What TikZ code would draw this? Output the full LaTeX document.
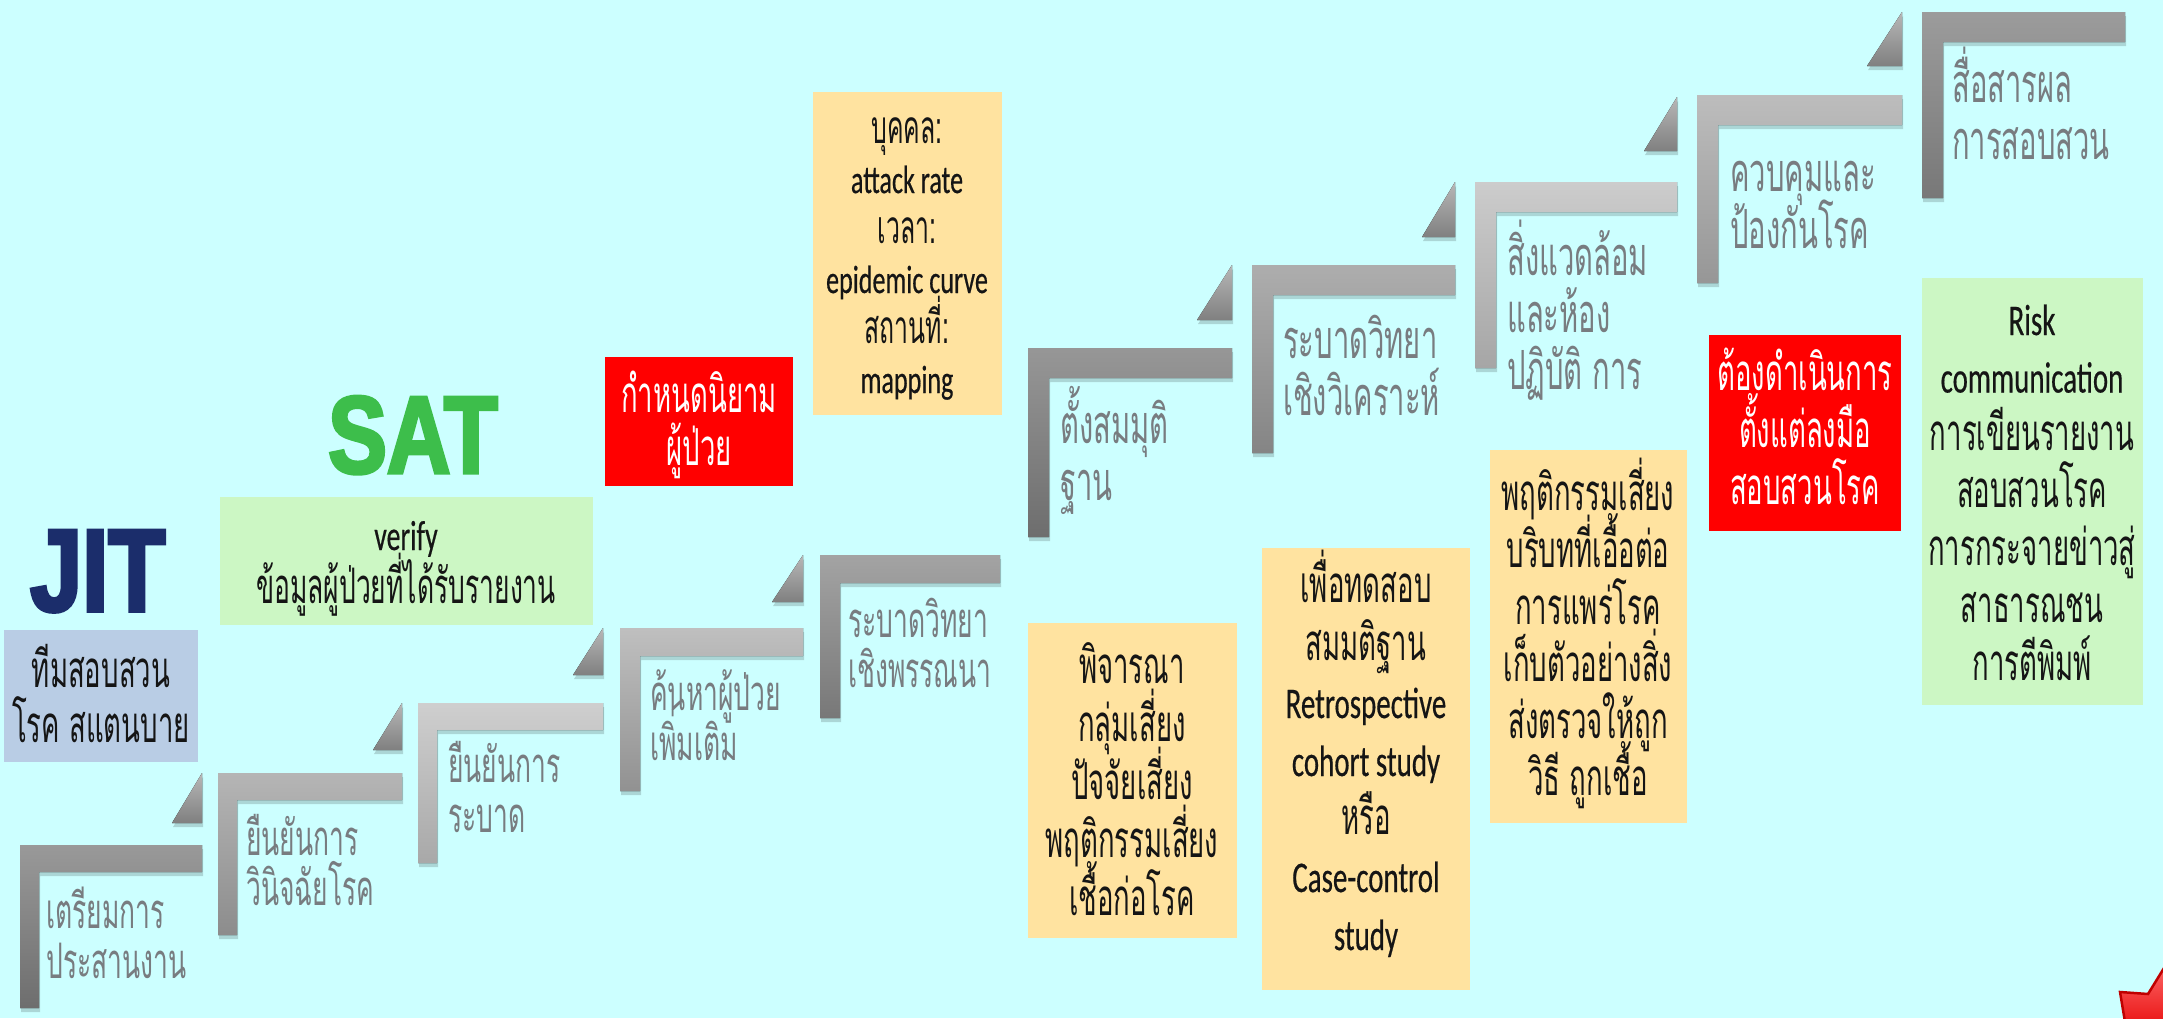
\documentclass[tikz,border=0pt]{standalone}
\usepackage{fontspec}
\usetikzlibrary{shadows}
\newfontfamily\thaifont[Script=Thai,FakeStretch=0.54]{Loma}
\newfontfamily\latinfont[FakeStretch=0.66,Scale=0.86,FakeBold=0.4]{Carlito}
\newfontfamily\headfont[FakeStretch=0.80,BoldFeatures={FakeBold=3}]{Liberation Sans}
\newcommand\tightlines{\lineskiplimit=-200pt\lineskip=0pt\relax}
\newcommand\lat[1]{{\latinfont #1}}

\definecolor{bgcyan}{HTML}{CCFFFF}
\definecolor{stepgray}{HTML}{787C80}
\definecolor{boxblue}{HTML}{B9CDE5}
\definecolor{boxgreen}{HTML}{CCF7C4}
\definecolor{boxpeach}{HTML}{FFE3A0}
\definecolor{boxred}{HTML}{FF0000}
\definecolor{jitnavy}{HTML}{1B2D6B}
\definecolor{satgreen}{HTML}{3DBE4B}
\definecolor{inktext}{HTML}{151515}

% one stair: L, T, R, bottom, bar thickness, post width, style
\newcommand\stair[7]{%
  \fill[#7] (#1,#2) -- (#3,#2) -- (#3,#2+#5) -- (#1+#6,#2+#5) -- (#1+#6,#4) -- (#1,#4) -- cycle;}
% small wedge at the riser: right x, top y, width, height
\newcommand\riser[4]{%
  \fill[wedge] (#1-#3,#2+#4) -- (#1,#2+#4) -- (#1,#2) -- cycle;}
% coloured panel: name, x1, y1, x2, y2, colour
\newcommand\panel[6]{%
  \node[panel, fill=#6, minimum width={#4-#2}, minimum height={#5-#3}]
    (#1) at ({(#2+#4)/2},{(#3+#5)/2}) {};}

\tikzset{
  stairshadow/.style={drop shadow={shadow xshift=1pt,shadow yshift=-4pt,opacity=0.16,fill=black}},
  wedge/.style={top color=black!28, bottom color=black!50, stairshadow},
  st1/.style={top color=black!40, bottom color=black!57, stairshadow},
  st2/.style={top color=black!29, bottom color=black!45, stairshadow},
  st3/.style={top color=black!19, bottom color=black!34, stairshadow},
  st4/.style={top color=black!25, bottom color=black!43, stairshadow},
  st5/.style={top color=black!36, bottom color=black!53, stairshadow},
  st6/.style={top color=black!41, bottom color=black!57, stairshadow},
  st7/.style={top color=black!32, bottom color=black!48, stairshadow},
  st8/.style={top color=black!20, bottom color=black!35, stairshadow},
  st9/.style={top color=black!26, bottom color=black!41, stairshadow},
  st10/.style={top color=black!39, bottom color=black!53, stairshadow},
  panel/.style={draw=none, inner sep=0pt, outer sep=0pt},
  % multi-line labels are placed by the baseline of their last line
  steplabel/.style={text=stepgray, align=left, anchor=base west, inner sep=0pt},
  smallstep/.style={font=\thaifont\fontsize{49}{50}\selectfont\tightlines},
  bigstep/.style={font=\thaifont\fontsize{54}{57}\selectfont\tightlines},
  boxtext/.style={align=center, anchor=base, inner sep=0pt, text=inktext,
    font=\thaifont\fontsize{51}{57}\selectfont\tightlines},
}

\begin{document}
\begin{tikzpicture}[x=1pt,y=-1pt]
\fill[bgcyan] (0,0) rectangle (2163,1018);
\useasboundingbox (0,0) rectangle (2163,1018);

% ---- staircase ----
\stair{20}{845}{202}{1008}{27}{19}{st1}
\riser{202}{773}{30}{50}
\stair{218}{773}{402}{935}{27}{19}{st2}
\riser{402}{703}{29}{47}
\stair{418}{703}{603}{863}{27}{19}{st3}
\riser{603}{628}{30}{47}
\stair{620}{628}{803}{791}{28}{20}{st4}
\riser{803}{555}{31}{47}
\stair{820}{555}{1000}{718}{28}{20}{st5}
\stair{1028}{348}{1232}{537}{30}{21}{st6}
\riser{1232}{265}{35}{55}
\stair{1252}{265}{1455}{453}{30}{21}{st7}
\riser{1455}{182}{33}{55}
\stair{1475}{182}{1677}{368}{30}{21}{st8}
\riser{1677}{97}{33}{54}
\stair{1697}{95}{1902}{283}{30}{21}{st9}
\riser{1902}{12}{35}{54}
\stair{1922}{12}{2125}{198}{30}{21}{st10}

% ---- stair labels ----
\node[steplabel,smallstep] (lab1) at (46,978) {เตรียมการ\\ประสานงาน};
\node[steplabel,smallstep] (lab2) at (246,905) {ยืนยันการ\\วินิจฉัยโรค};
\node[steplabel,smallstep] (lab3) at (448,832) {ยืนยันการ\\ระบาด};
\node[steplabel,smallstep] (lab4) at (650,760) {ค้นหาผู้ป่วย\\เพิ่มเติม};
\node[steplabel,smallstep] (lab5) at (848,687) {ระบาดวิทยา\\เชิงพรรณนา};
\node[steplabel,bigstep] (lab6) at (1060,500) {ตั้งสมมุติ\\ฐาน};
\node[steplabel,bigstep] (lab7) at (1283,415) {ระบาดวิทยา\\เชิงวิเคราะห์};
\node[steplabel,bigstep] (lab8) at (1507,389) {สิ่งแวดล้อม\\และห้อง\\ปฏิบัติ การ};
\node[steplabel,bigstep] (lab9) at (1730,248) {ควบคุมและ\\ป้องกันโรค};
\node[steplabel,bigstep] (lab10) at (1952,159) {สื่อสารผล\\การสอบสวน};

% ---- headings ----
\node[anchor=base west, inner sep=0pt, text=jitnavy,
  font=\headfont\bfseries\fontsize{117}{117}\selectfont] (jit) at (30,611) {JIT};
\node[anchor=base west, inner sep=0pt, text=satgreen,
  font=\headfont\bfseries\fontsize{110}{110}\selectfont] (sat) at (328,473) {SAT};

% ---- panels ----
\panel{teambox}{4}{630}{198}{762}{boxblue}
\panel{verifybox}{220}{497}{593}{625}{boxgreen}
\panel{casedefbox}{605}{357}{793}{486}{boxred}
\panel{descbox}{813}{92}{1002}{415}{boxpeach}
\panel{riskbox}{1028}{623}{1237}{938}{boxpeach}
\panel{testbox}{1262}{548}{1470}{990}{boxpeach}
\panel{envbox}{1490}{450}{1687}{823}{boxpeach}
\panel{startbox}{1709}{335}{1901}{531}{boxred}
\panel{commbox}{1922}{278}{2143}{705}{boxgreen}

% ---- panel texts ----
\node[boxtext, font=\thaifont\fontsize{51}{55}\selectfont\tightlines] (teamtext) at (101,742)
  {ทีมสอบสวน\\โรค สแตนบาย};
\node[boxtext, font=\thaifont\fontsize{49}{53}\selectfont\tightlines] (verifytext) at (406,603)
  {\lat{verify}\\ข้อมูลผู้ป่วยที่ได้รับรายงาน};
\node[boxtext, text=white, font=\thaifont\fontsize{51}{53}\selectfont\tightlines] (casedeftext) at (699,465)
  {กำหนดนิยาม\\ผู้ป่วย};
\node[boxtext, font=\thaifont\fontsize{46}{50}\selectfont\tightlines] (desctext) at (907,393)
  {บุคคล:\\\lat{attack rate}\\เวลา:\\\lat{epidemic curve}\\สถานที่:\\\lat{mapping}};
\node[boxtext, font=\thaifont\fontsize{51}{58}\selectfont\tightlines] (risktext) at (1132,915)
  {พิจารณา\\กลุ่มเสี่ยง\\ปัจจัยเสี่ยง\\พฤติกรรมเสี่ยง\\เชื้อก่อโรค};
\node[boxtext, font=\thaifont\fontsize{51}{58}\selectfont\tightlines] (testtext) at (1366,950)
  {เพื่อทดสอบ\\สมมติฐาน\\\lat{Retrospective}\\\lat{cohort study}\\หรือ\\\lat{Case-control}\\\lat{study}};
\node[boxtext] (envtext) at (1588,795)
  {พฤติกรรมเสี่ยง\\บริบทที่เอื้อต่อ\\การแพร่โรค\\เก็บตัวอย่างสิ่ง\\ส่งตรวจให้ถูก\\วิธี ถูกเชื้อ};
\node[boxtext, text=white] (starttext) at (1805,504)
  {ต้องดำเนินการ\\ตั้งแต่ลงมือ\\สอบสวนโรค};
\node[boxtext, font=\thaifont\fontsize{51}{57.5}\selectfont\tightlines] (commtext) at (2032,680)
  {\lat{Risk}\\\lat{communication}\\การเขียนรายงาน\\สอบสวนโรค\\การกระจายข่าวสู่\\สาธารณชน\\การตีพิมพ์};

% ---- corner star ----
\begin{scope}
  \clip (0,0) rectangle (2163,1018);
  \fill[top color=red!55, bottom color=red!90!black, draw=red!75!black, line width=2.5pt]
    (2120,992) -- (2148,994) -- (2172,955) -- (2205,995) -- (2205,1040) -- (2128,1040) -- cycle;
\end{scope}
\end{tikzpicture}
\end{document}
